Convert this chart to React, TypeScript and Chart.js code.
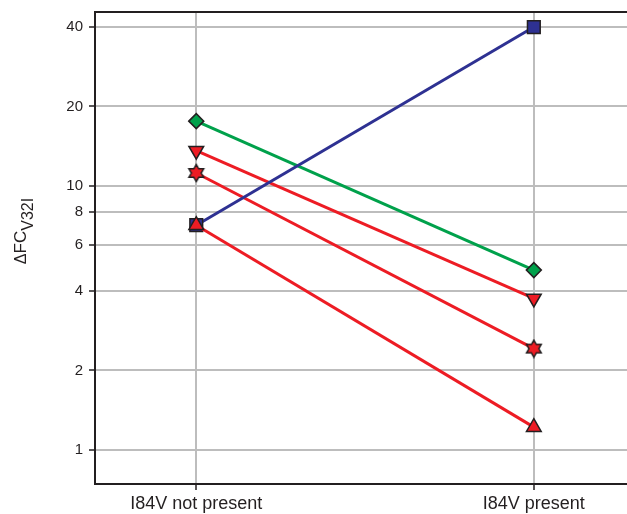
import React, { useEffect, useRef } from "react";
import { Chart, registerables } from "chart.js";

Chart.register(...registerables);

const categories = ["I84V not present", "I84V present"];
const tickValues = [1, 2, 4, 6, 8, 10, 20, 40];

const blueSquare = [7.1, 40];
const greenDiamond = [17.6, 4.8];
const redTriangleDown = [13.6, 3.75];
const redStar = [11.2, 2.42];
const redTriangleUp = [7.1, 1.22];

const Y_MIN = 0.743;
const Y_MAX = 45.6;

const BLUE = "#2E3192";
const GREEN = "#00A14B";
const RED = "#ED1C24";
const EDGE = "#231F20";
const FONT = "'Liberation Sans', Arial, sans-serif";

function makeHexagram(): HTMLCanvasElement {
  const s = 20;
  const c = document.createElement("canvas");
  c.width = s;
  c.height = s;
  const ctx = c.getContext("2d")!;
  const cx = s / 2;
  const cy = s / 2;
  const R = 8.5;
  const r = R / Math.sqrt(3);
  ctx.beginPath();
  for (let i = 0; i < 12; i++) {
    const ang = -Math.PI / 2 + (i * Math.PI) / 6;
    const rad = i % 2 === 0 ? R : r;
    const x = cx + Math.cos(ang) * rad;
    const y = cy + Math.sin(ang) * rad;
    if (i === 0) ctx.moveTo(x, y);
    else ctx.lineTo(x, y);
  }
  ctx.closePath();
  ctx.fillStyle = RED;
  ctx.fill();
  ctx.lineWidth = 1.5;
  ctx.strokeStyle = EDGE;
  ctx.lineJoin = "miter";
  ctx.stroke();
  return c;
}

const toPoints = (vals: number[]) => vals.map((v, i) => ({ x: i, y: v }));

export default function App() {
  const ref = useRef<HTMLCanvasElement | null>(null);

  useEffect(() => {
    if (!ref.current) return;
    const hex = makeHexagram();

    const framePlugin = {
      id: "frame",
      beforeDatasetsDraw(chart: any) {
        const { ctx, chartArea } = chart;
        ctx.save();
        ctx.strokeStyle = "#231F20";
        ctx.lineWidth = 2;
        ctx.beginPath();
        ctx.moveTo(chartArea.left - 1, chartArea.top);
        ctx.lineTo(chartArea.right, chartArea.top);
        ctx.stroke();
        ctx.restore();
      },
      afterDraw(chart: any) {
        const { ctx } = chart;
        ctx.save();
        ctx.translate(20, 231);
        ctx.rotate(-Math.PI / 2);
        ctx.fillStyle = "#231F20";
        ctx.textBaseline = "alphabetic";
        const parts = [
          { t: "\u0394", f: `16px ${FONT}`, dy: 0 },
          { t: "FC", f: `17px ${FONT}`, dy: 0 },
          { t: "V32I", f: `16px ${FONT}`, dy: 7 },
        ];
        let total = 0;
        const widths: number[] = [];
        for (const p of parts) {
          ctx.font = p.f;
          const w = ctx.measureText(p.t).width;
          widths.push(w);
          total += w;
        }
        let x = -total / 2;
        const baseY = 6;
        parts.forEach((p, i) => {
          ctx.font = p.f;
          ctx.fillText(p.t, x, baseY + p.dy);
          x += widths[i];
        });
        ctx.restore();
      },
    };

    const chart = new Chart(ref.current, {
      type: "line",
      data: {
        datasets: [
          {
            label: "triangle up",
            data: toPoints(redTriangleUp),
            borderColor: RED,
            backgroundColor: RED,
            pointBorderColor: EDGE,
            pointBackgroundColor: RED,
            pointStyle: "triangle",
            pointRadius: 8.5,
            pointBorderWidth: 1.5,
            borderWidth: 3,
            order: 0,
          },
          {
            label: "square",
            data: toPoints(blueSquare),
            borderColor: BLUE,
            backgroundColor: BLUE,
            pointBorderColor: EDGE,
            pointBackgroundColor: BLUE,
            pointStyle: "rect",
            pointRadius: 9,
            pointBorderWidth: 1.5,
            borderWidth: 3,
            order: 1,
          },
          {
            label: "star",
            data: toPoints(redStar),
            borderColor: RED,
            backgroundColor: RED,
            pointStyle: hex as any,
            pointRadius: 8,
            borderWidth: 3,
            order: 2,
          },
          {
            label: "triangle down",
            data: toPoints(redTriangleDown),
            borderColor: RED,
            backgroundColor: RED,
            pointBorderColor: EDGE,
            pointBackgroundColor: RED,
            pointStyle: "triangle",
            pointRotation: 180,
            pointRadius: 8.5,
            pointBorderWidth: 1.5,
            borderWidth: 3,
            order: 3,
          },
          {
            label: "diamond",
            data: toPoints(greenDiamond),
            borderColor: GREEN,
            backgroundColor: GREEN,
            pointBorderColor: EDGE,
            pointBackgroundColor: GREEN,
            pointStyle: "rectRot",
            pointRadius: 7.5,
            pointBorderWidth: 1.5,
            borderWidth: 3,
            order: 4,
          },
        ],
      },
      options: {
        responsive: false,
        animation: false,
        events: [],
        layout: { autoPadding: false, padding: { top: 12, left: 0, right: 0, bottom: 0 } },
        plugins: {
          legend: { display: false },
          tooltip: { enabled: false },
          title: { display: false },
        },
        scales: {
          x: {
            type: "linear",
            min: -0.3,
            max: 1.276,
            bounds: "data",
            afterBuildTicks: (scale: any) => {
              scale.ticks = categories.map((_, i) => ({ value: i }));
              scale.min = -0.3;
              scale.max = 1.276;
            },
            afterFit: (scale: any) => {
              scale.height = 30;
              scale.paddingLeft = 0;
              scale.paddingRight = 0;
            },
            grid: {
              color: "#BDBDBD",
              lineWidth: 2,
              tickColor: "#231F20",
              tickLength: 6,
              tickWidth: 1.5,
            },
            border: { color: "#231F20", width: 2 },
            ticks: {
              color: "#231F20",
              font: { family: FONT, size: 18 },
              padding: 3,
              maxRotation: 0,
              callback: (v: any) => categories[Number(v)] ?? "",
            },
          },
          y: {
            type: "logarithmic",
            min: Y_MIN,
            max: Y_MAX,
            bounds: "data",
            afterBuildTicks: (scale: any) => {
              scale.ticks = tickValues.map((v) => ({ value: v }));
              scale.min = Y_MIN;
              scale.max = Y_MAX;
            },
            afterFit: (scale: any) => {
              scale.width = 95;
              scale.paddingTop = 0;
              scale.paddingBottom = 0;
            },
            grid: {
              color: "#BDBDBD",
              lineWidth: 2,
              tickColor: "#231F20",
              tickLength: 6,
              tickWidth: 1.5,
            },
            border: { color: "#231F20", width: 2 },
            ticks: {
              color: "#231F20",
              font: { family: FONT, size: 15 },
              padding: 6,
              callback: (v: any) => String(v),
            },
          },
        },
      },
      plugins: [framePlugin],
    } as any);

    return () => chart.destroy();
  }, []);

  return (
    <div style={{ position: "fixed", left: 0, top: 0, width: 627, height: 514, background: "#fff" }}>
      <canvas ref={ref} width={627} height={514} style={{ display: "block", width: 627, height: 514 }} />
    </div>
  );
}
